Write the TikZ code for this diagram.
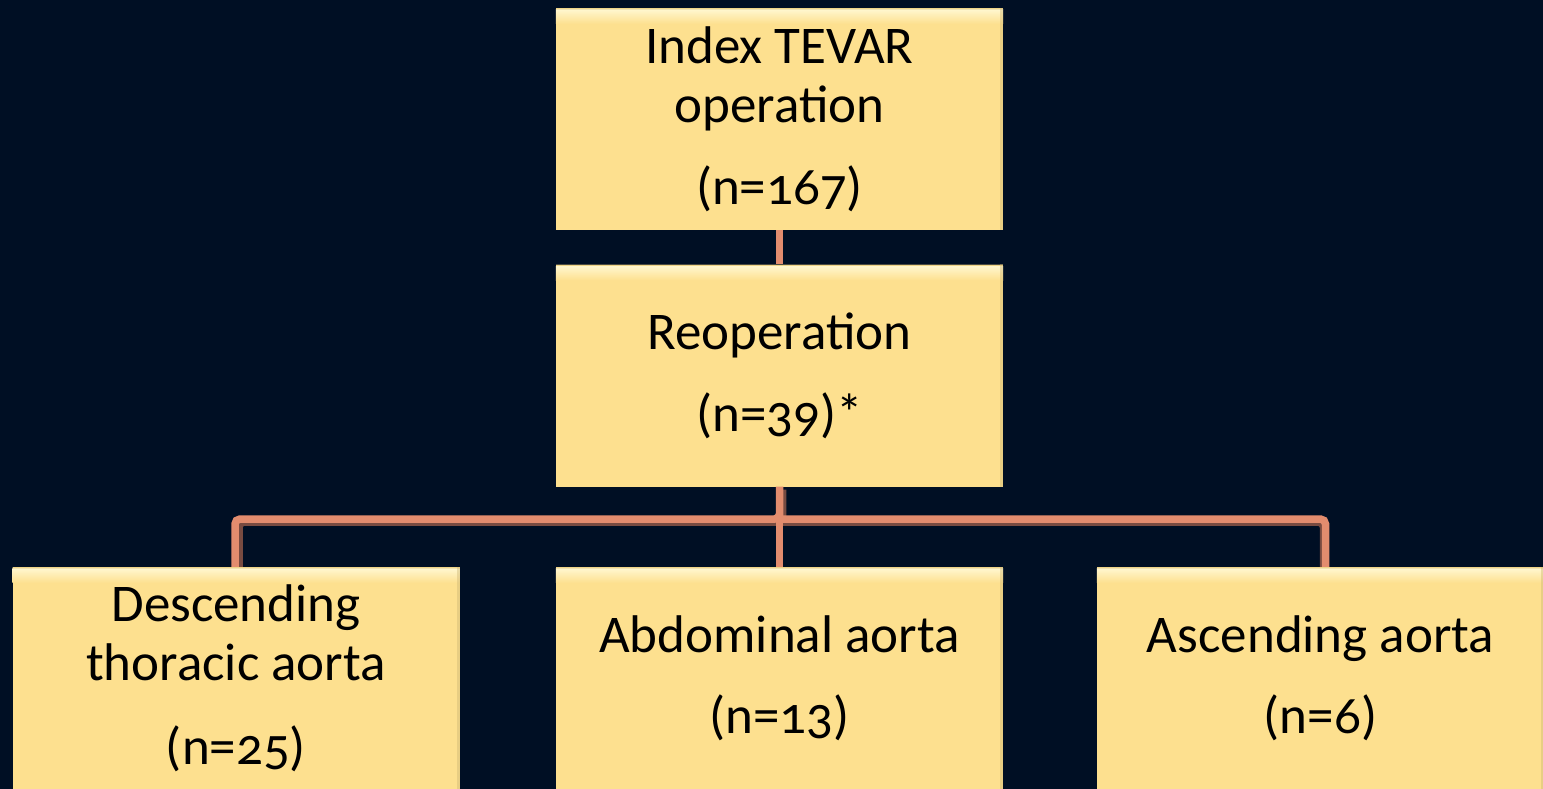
\documentclass[tikz,border=0pt]{standalone}
\usepackage{fontspec}
\setmainfont[Numbers=OldStyle]{Carlito}
\definecolor{bgc}{RGB}{0,15,36}
\definecolor{boxc}{RGB}{253,224,143}
\definecolor{boxhi}{RGB}{255,246,205}
\definecolor{linec}{RGB}{226,140,110}
\definecolor{lineshade}{RGB}{120,75,65}
\tikzset{
  flowbox/.style={draw=none, fill=boxc, minimum width=447pt, minimum height=222pt,
    inner sep=0pt, align=center, text=black,
    font=\fontsize{53}{59}\selectfont},
  conn/.style={draw=linec, line width=7.5pt, rounded corners=5pt},
  connshade/.style={draw=lineshade, line width=7.5pt, rounded corners=5pt},
}
\begin{document}
\begin{tikzpicture}[x=1pt,y=1pt]
\fill[bgc] (0,0) rectangle (1543,-789);
\useasboundingbox (0,0) rectangle (1543,-789);
\node[flowbox] (top) at (779.5,-119) {Index TEVAR\\operation\\[23pt](n=167)};
\node[flowbox] (reop) at (779.5,-375.5) {Reoperation\\[23pt](n=39)*};
\node[flowbox] (left) at (236,-678) {Descending\\thoracic aorta\\[25pt](n=25)};
\node[flowbox] (mid) at (779.5,-678) {Abdominal aorta\\[22pt](n=13)};
\node[flowbox] (right) at (1320.5,-678) {Ascending aorta\\[22pt](n=6)};
\foreach \n in {top,reop,left,mid,right}{
  \shade[top color=boxhi, bottom color=boxc] ([yshift=-2pt]\n.north west) rectangle ([yshift=-16pt]\n.north east);
  \fill[boxc!85!black, opacity=0.35] (\n.north west) rectangle ([yshift=-2pt]\n.north east);
  \fill[boxc!80!black, opacity=0.4] (\n.north east) rectangle ([xshift=-3pt]\n.south east);
}
\coordinate (bar) at (779.5,-519);
\draw[connshade] ([xshift=3pt,yshift=-3pt]reop.south) |- ([xshift=3pt,yshift=-3pt]bar) -| ([xshift=3pt]left.north);
\draw[connshade] ([xshift=3pt,yshift=-3pt]bar) -| ([xshift=3pt]right.north);
\draw[conn] (top.south) -- (reop.north);
\draw[conn] (reop.south) |- (bar) -| ([xshift=-1pt]left.north);
\draw[conn] (bar) -| ([xshift=5pt]right.north);
\draw[conn] (reop.south) -- (mid.north);
\end{tikzpicture}
\end{document}
